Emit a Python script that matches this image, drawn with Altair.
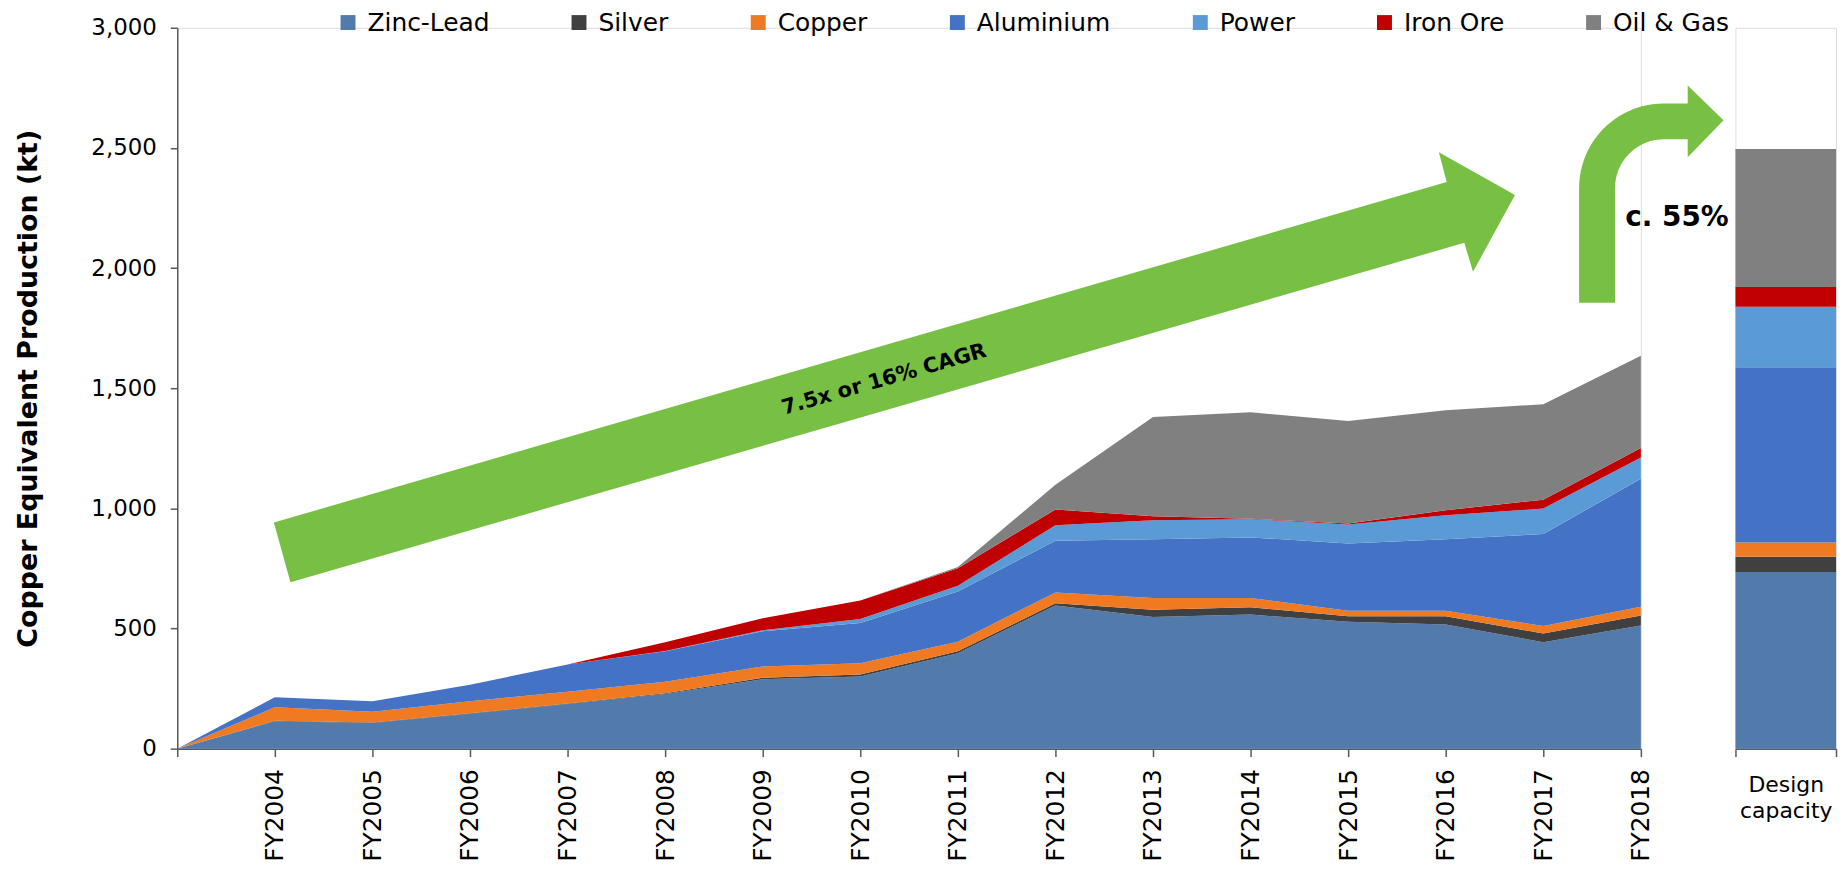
import altair as alt
import pandas as pd
import numpy as np

# ---------------- data ----------------
years = ["", "FY2004", "FY2005", "FY2006", "FY2007", "FY2008", "FY2009", "FY2010",
         "FY2011", "FY2012", "FY2013", "FY2014", "FY2015", "FY2016", "FY2017", "FY2018"]
series = ["Zinc-Lead", "Silver", "Copper", "Aluminium", "Power", "Iron Ore", "Oil & Gas"]
colors = ["#527BAB", "#404040", "#F07A22", "#4472C4", "#5B9BD5", "#C00000", "#808080"]

zinc_lead = [0, 114, 107, 145, 186, 227, 289, 300, 397, 596, 548, 558, 528, 517, 443, 512]
silver    = [0, 2, 2, 2, 2, 3, 6, 9, 8, 9, 30, 30, 23, 34, 36, 42]
copper    = [0, 56, 45, 50, 49, 48, 47, 46, 40, 45, 49, 39, 23, 23, 31, 36]
aluminium = [0, 42, 43, 69, 113, 127, 147, 168, 209, 215, 244, 252, 280, 297, 383, 533]
power     = [0, 0, 0, 0, 0, 1, 4, 17, 24, 65, 79, 76, 79, 100, 106, 89]
iron_ore  = [0, 0, 0, 0, 0, 37, 50, 77, 73, 65, 17, 2, 4, 21, 37, 39]
oil_gas   = [0, 0, 0, 0, 0, 0, 0, 0, 5, 103, 413, 443, 427, 416, 397, 384]

design_label = "Design capacity"
design = [735, 64, 59, 729, 252, 82, 575]

y_ticks = [0, 500, 1000, 1500, 2000, 2500, 3000]

# annotation arrows (in data units: x = category index, y = kt)
straight_arrow_x = [0.99, 13.01, 12.93, 13.71, 13.28, 13.19, 1.16]
straight_arrow_y = [941, 2358, 2482, 2304, 1985, 2105, 692]

# curved arrow: shaft + quarter ring + head
shaft_left, shaft_right, shaft_bottom = 14.367, 14.735, 1856
arc_cx, arc_cy = 15.235, 2333
outer_rx, outer_ry = 0.868, 352
inner_rx, inner_ry = 0.500, 203
head_back, head_tip = 15.48, 15.847
head_top, head_tip_y, head_bottom = 2760, 2615, 2461

green = "#77C043"
font = "DejaVu Sans"

# ---------------- build tables ----------------
all_vals = [zinc_lead, silver, copper, aluminium, power, iron_ore, oil_gas]
rows = []
for k, (s, vals) in enumerate(zip(series, all_vals)):
    for i, v in enumerate(vals):
        rows.append({"i": i, "series": s, "ord": k, "value": v})
df = pd.DataFrame(rows)

design_df = pd.DataFrame({"cat": design_label, "series": series,
                          "ord": list(range(len(series))), "value": design})

sa = pd.DataFrame({"x": straight_arrow_x, "y": straight_arrow_y,
                   "k": list(range(len(straight_arrow_x)))})

th_out = np.linspace(np.pi, np.pi / 2, 24)
th_in = np.linspace(np.pi / 2, np.pi, 24)
cx_pts = ([shaft_left] + list(arc_cx + outer_rx * np.cos(th_out)) +
          [head_back, head_back, head_tip, head_back, head_back] +
          list(arc_cx + inner_rx * np.cos(th_in)) + [shaft_right])
cy_pts = ([shaft_bottom] + list(arc_cy + outer_ry * np.sin(th_out)) +
          [arc_cy + outer_ry, head_top, head_tip_y, head_bottom, arc_cy + inner_ry] +
          list(arc_cy + inner_ry * np.sin(th_in)) + [shaft_bottom])
ca = pd.DataFrame({"x": cx_pts, "y": cy_pts, "k": list(range(len(cx_pts)))})

labels_df = pd.DataFrame({"x": [7.245], "y": [1535], "t": ["7.5x or 16% CAGR"]})
pct_df = pd.DataFrame({"x": [15.37], "y": [2210], "t": ["c. 55%"]})

# ---------------- scales / legend ----------------
color_scale = alt.Scale(domain=series, range=colors)
y_scale = alt.Scale(domain=[0, 3000], nice=False, zero=True)
legend = alt.Legend(orient="none", legendX=159, legendY=-18, direction="horizontal",
                    title=None, symbolType="square", symbolSize=225, symbolStrokeWidth=0,
                    labelFont=font, labelFontSize=25, labelColor="black",
                    labelOffset=7, columnPadding=77, columns=7, labelLimit=400,
                    padding=0)

x_label_expr = "[" + ",".join("'" + y + "'" for y in years) + "][datum.value]"

x_enc = alt.X("i:Q", scale=alt.Scale(domain=[0, len(years) - 1], nice=False, zero=False),
              axis=alt.Axis(values=list(range(len(years))), labelExpr=x_label_expr,
                            title=None, grid=False, labelAngle=-90, labelFont=font,
                            labelFontSize=25, labelColor="black", labelPadding=12,
                            tickSize=8, tickColor="#595959", domainColor="#595959",
                            domainWidth=1.5, tickWidth=1.5, labelFlush=False))

area = alt.Chart(df).mark_area(interpolate="linear").encode(
    x=x_enc,
    y=alt.Y("value:Q", stack="zero", scale=y_scale,
            axis=alt.Axis(values=y_ticks, format=",.0f",
                          title="Copper Equivalent Production (kt)",
                          grid=False, labelFont=font, labelFontSize=23, labelColor="black",
                          tickSize=7, labelPadding=14, tickColor="#595959",
                          domainColor="#595959", domainWidth=1.5, tickWidth=1.5,
                          titleFont=font, titleFontSize=27, titleFontWeight="bold",
                          titleColor="black", titlePadding=49)),
    color=alt.Color("series:N", scale=color_scale, legend=legend),
    order=alt.Order("ord:Q", sort="ascending"),
)

arrow1 = alt.Chart(sa).mark_line(filled=True, color=green, interpolate="linear").encode(
    x="x:Q", y="y:Q", order="k:Q")
arrow2 = alt.Chart(ca).mark_line(filled=True, color=green, interpolate="linear").encode(
    x="x:Q", y="y:Q", order="k:Q")

txt1 = alt.Chart(labels_df).mark_text(font=font, fontSize=21, fontWeight="bold",
                                      angle=344, color="black").encode(
    x="x:Q", y="y:Q", text="t:N")
txt2 = alt.Chart(pct_df).mark_text(font=font, fontSize=28, fontWeight="bold",
                                   color="black").encode(
    x="x:Q", y="y:Q", text="t:N")

left = alt.layer(area, arrow1, arrow2, txt1, txt2).properties(width=1470, height=724)

bar = alt.Chart(design_df).mark_bar().encode(
    x=alt.X("cat:N", scale=alt.Scale(paddingInner=0, paddingOuter=0),
            axis=alt.Axis(title=None, labelAngle=0, tickBand="extent",
                          labelExpr="split(datum.label, ' ')", labelFont=font,
                          labelFontSize=22, labelColor="black", labelLineHeight=26,
                          labelPadding=18, tickSize=8, tickColor="#595959",
                          domainColor="#595959", domainWidth=1.5, tickWidth=1.5)),
    y=alt.Y("value:Q", stack="zero", scale=y_scale, axis=None),
    color=alt.Color("series:N", scale=color_scale, legend=legend),
    order=alt.Order("ord:Q", sort="ascending"),
).properties(width=101, height=724)

chart = alt.hconcat(left, bar, spacing=95, bounds="flush").resolve_scale(
    color="shared", y="shared"
).properties(
    padding={"left": 5, "top": 0, "right": 2, "bottom": 0}
).configure_view(strokeWidth=0, stroke="transparent").configure(background="white")

chart.save("out.html", embed_options={"renderer": "svg", "actions": False})
